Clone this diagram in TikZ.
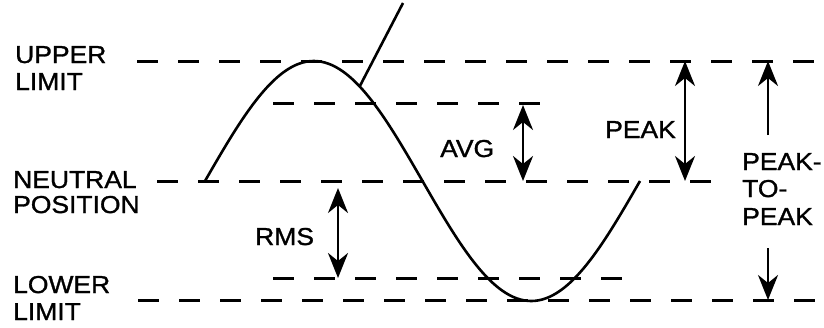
\documentclass[tikz,border=0pt]{standalone}
\usepackage{fontspec}
\setmainfont{Liberation Sans}[FakeStretch=1.08,FakeBold=1.2]
\usetikzlibrary{arrows.meta}
\begin{document}
\begin{tikzpicture}[x=1pt,y=-1pt,
  lbl/.style={inner sep=0pt,anchor=base west,font=\fontsize{24.5}{27}\selectfont},
  level/.style={line width=3pt,dash pattern=on 21pt off 20pt},
  wave/.style={line width=2.6pt},
  tip/.tip={Stealth[length=25pt,width=20pt,inset=8pt]},
  dim/.style={line width=2.6pt,tip-tip},
  one/.style={line width=2.6pt,-tip}]
\useasboundingbox (0,0) rectangle (824,327);
% level lines
\coordinate (ul1) at (137,61);  \coordinate (ul2) at (822,61);
\coordinate (nu1) at (157,181); \coordinate (nu2) at (726,181);
\coordinate (ll1) at (138,300); \coordinate (ll2) at (822,300);
\coordinate (av1) at (273,103); \coordinate (av2) at (553,103);
\coordinate (rm1) at (273,278); \coordinate (rm2) at (624,278);
\draw[level] (ul1) -- (ul2);
\draw[level] (nu1) -- (nu2);
\draw[level] (ll1) -- (ll2);
\draw[level] (av1) -- (av2);
\draw[level] (rm1) -- (rm2);
% sine wave
\draw[wave] plot[domain=0:360,samples=121,smooth] ({205+1.208333*\x},{181-120*sin(\x)});
\coordinate (cv) at ({205+1.208333*128},{181-120*sin(128)});
\coordinate (pt) at (403,3);
\draw[wave] (pt) -- (cv);
% labels
\node[lbl] (upper) at (15,63) {UPPER};
\node[lbl] (ulimit) at (15,90) {LIMIT};
\node[lbl] (neutral) at (13,188) {NEUTRAL};
\node[lbl] (position) at (13,213) {POSITION};
\node[lbl] (lower) at (13,293) {LOWER};
\node[lbl] (llimit) at (13,320) {LIMIT};
\node[lbl] (rms) at (255,245) {RMS};
\node[lbl] (avg) at (440,157) {AVG};
\node[lbl] (peak) at (605,138) {PEAK};
\node[lbl] (ptp1) at (742,170) {PEAK-};
\node[lbl] (ptp2) at (742,197) {TO-};
\node[lbl] (ptp3) at (742,225) {PEAK};
% dimension arrows
\coordinate (r1) at (338,188); \coordinate (r2) at (338,278);
\coordinate (a1) at (523,105); \coordinate (a2) at (523,181);
\coordinate (p1) at (685,61);  \coordinate (p2) at (685,181);
\coordinate (q0) at (768,135); \coordinate (q1) at (768,61);
\coordinate (q2) at (768,248); \coordinate (q3) at (768,300);
\draw[dim] (r1) -- (r2);
\draw[dim] (a1) -- (a2);
\draw[dim] (p1) -- (p2);
\draw[one] (q0) -- (q1);
\draw[one] (q2) -- (q3);
\end{tikzpicture}
\end{document}
